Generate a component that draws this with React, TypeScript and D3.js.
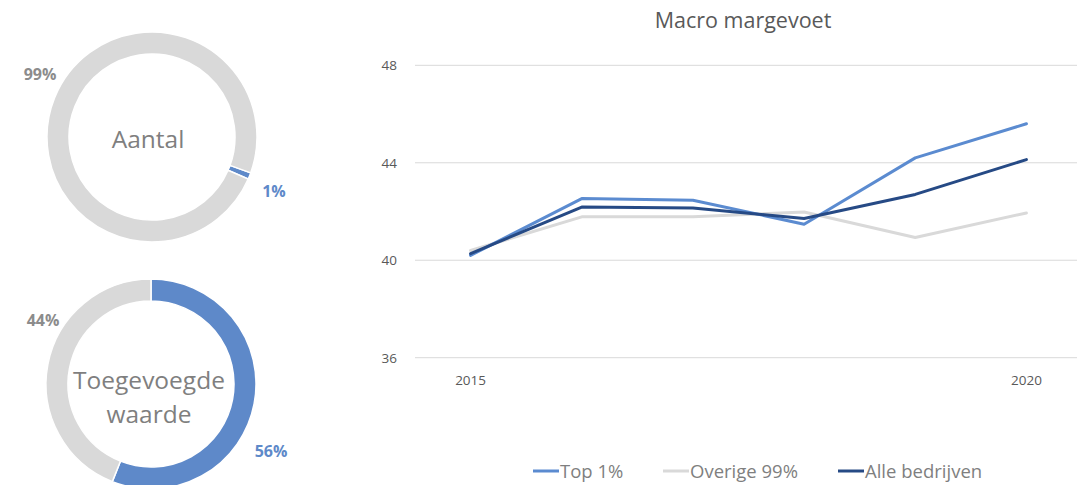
import React from "react";
import * as d3 from "d3";

const years = ["2015", "2016", "2017", "2018", "2019", "2020"];
const xTickLabels = ["2015", "", "", "", "", "2020"];
const top1 = [40.2, 42.53, 42.46, 41.48, 44.2, 45.6];
const overige99 = [40.4, 41.78, 41.78, 41.98, 40.93, 41.94];
const alleBedrijven = [40.27, 42.18, 42.14, 41.71, 42.7, 44.13];
const yTicks = [36, 40, 44, 48];
const seriesNames = ["Top 1%", "Overige 99%", "Alle bedrijven"];
const seriesColors = ["#5b8bd0", "#d9d9d9", "#264a85"];

const aantalShares = [1, 99];
const aantalLabels = ["1%", "99%"];
const toegevoegdShares = [56, 44];
const toegevoegdLabels = ["56%", "44%"];
const donutColors = ["#5e89c9", "#d9d9d9"];

const FONT = "'Open Sans', 'Noto Sans', sans-serif";

function Donut({ cx, cy, values, startDeg, center, centerY, centerDx, labels, labelPos }: any) {
  const pie = d3.pie<number>().sort(null).value((d) => d)
    .startAngle((startDeg * Math.PI) / 180)
    .endAngle((startDeg * Math.PI) / 180 + 2 * Math.PI);
  const arc = d3.arc<d3.PieArcDatum<number>>().innerRadius(83).outerRadius(105);
  const arcs = pie(values);
  return (
    <g transform={`translate(${cx},${cy})`}>
      {arcs.map((a, i) => (
        <path key={i} d={arc(a) || ""} fill={donutColors[i]} stroke="#fff" strokeWidth={1.5} />
      ))}
      {center.map((t: string, i: number) => (
        <text key={i} x={centerDx} y={centerY[i]} textAnchor="middle"
          fontSize={24.5} fill="#7f7f7f" fontFamily={FONT}>{t}</text>
      ))}
      {labels.map((t: string, i: number) => (
        <text key={"l" + i} x={labelPos[i][0]} y={labelPos[i][1]} textAnchor="middle"
          fontSize={16} fontWeight="bold" fill={i === 0 ? "#5e89c9" : "#8c8c8c"} fontFamily={FONT}>{t}</text>
      ))}
    </g>
  );
}

export default function App() {
  const W = 1077, H = 485;
  const x = d3.scaleBand<string>().domain(years).range([415, 1082]);
  const y = d3.scaleLinear().domain([36, 48]).range([357.7, 65.3]);
  const line = d3.line<number>()
    .x((_, i) => (x(years[i]) as number) + x.bandwidth() / 2)
    .y((d) => y(d));
  const series = [top1, overige99, alleBedrijven];
  const drawOrder = [1, 0, 2];
  const legendX = [533, 663, 838];
  const legendLen = 26;
  return (
    <svg width={W} height={H} style={{ position: "absolute", left: 0, top: 0, background: "#fff" }}>
      <rect width={W} height={H} fill="#fff" />
      <Donut cx={152} cy={137} values={aantalShares} startDeg={110} center={["Aantal"]}
        centerY={[11]} centerDx={-4}
        labels={aantalLabels} labelPos={[[122, 60], [-112, -57]]} />
      <Donut cx={151} cy={384} values={toegevoegdShares} startDeg={0} center={["Toegevoegde", "waarde"]}
        centerY={[5, 39]} centerDx={-2}
        labels={toegevoegdLabels} labelPos={[[120, 73], [-108, -58]]} />

      <text x={743} y={28} textAnchor="middle" fontSize={21.5} fill="#595959" fontFamily={FONT}>Macro margevoet</text>
      {yTicks.map((t) => (
        <g key={t}>
          <line x1={415} x2={1077} y1={y(t)} y2={y(t)} stroke="#d9d9d9" strokeWidth={1} />
          <text x={397} y={y(t) + 5} textAnchor="end" fontSize={13.5} fill="#595959" fontFamily={FONT}>{t}</text>
        </g>
      ))}
      {years.map((yr, i) => xTickLabels[i] ? (
        <text key={yr} x={(x(yr) as number) + x.bandwidth() / 2} y={385} textAnchor="middle"
          fontSize={13.5} fill="#595959" fontFamily={FONT}>{xTickLabels[i]}</text>
      ) : null)}
      {drawOrder.map((si) => (
        <path key={si} d={line(series[si]) || ""} fill="none" stroke={seriesColors[si]}
          strokeWidth={3} strokeLinejoin="round" strokeLinecap="round" />
      ))}
      {seriesNames.map((n, i) => (
        <g key={n}>
          <line x1={legendX[i]} x2={legendX[i] + legendLen} y1={471} y2={471} stroke={seriesColors[i]} strokeWidth={3} />
          <text x={legendX[i] + legendLen + 1} y={477.5} fontSize={18.5} fill="#7f7f7f" fontFamily={FONT}>{n}</text>
        </g>
      ))}
    </svg>
  );
}
